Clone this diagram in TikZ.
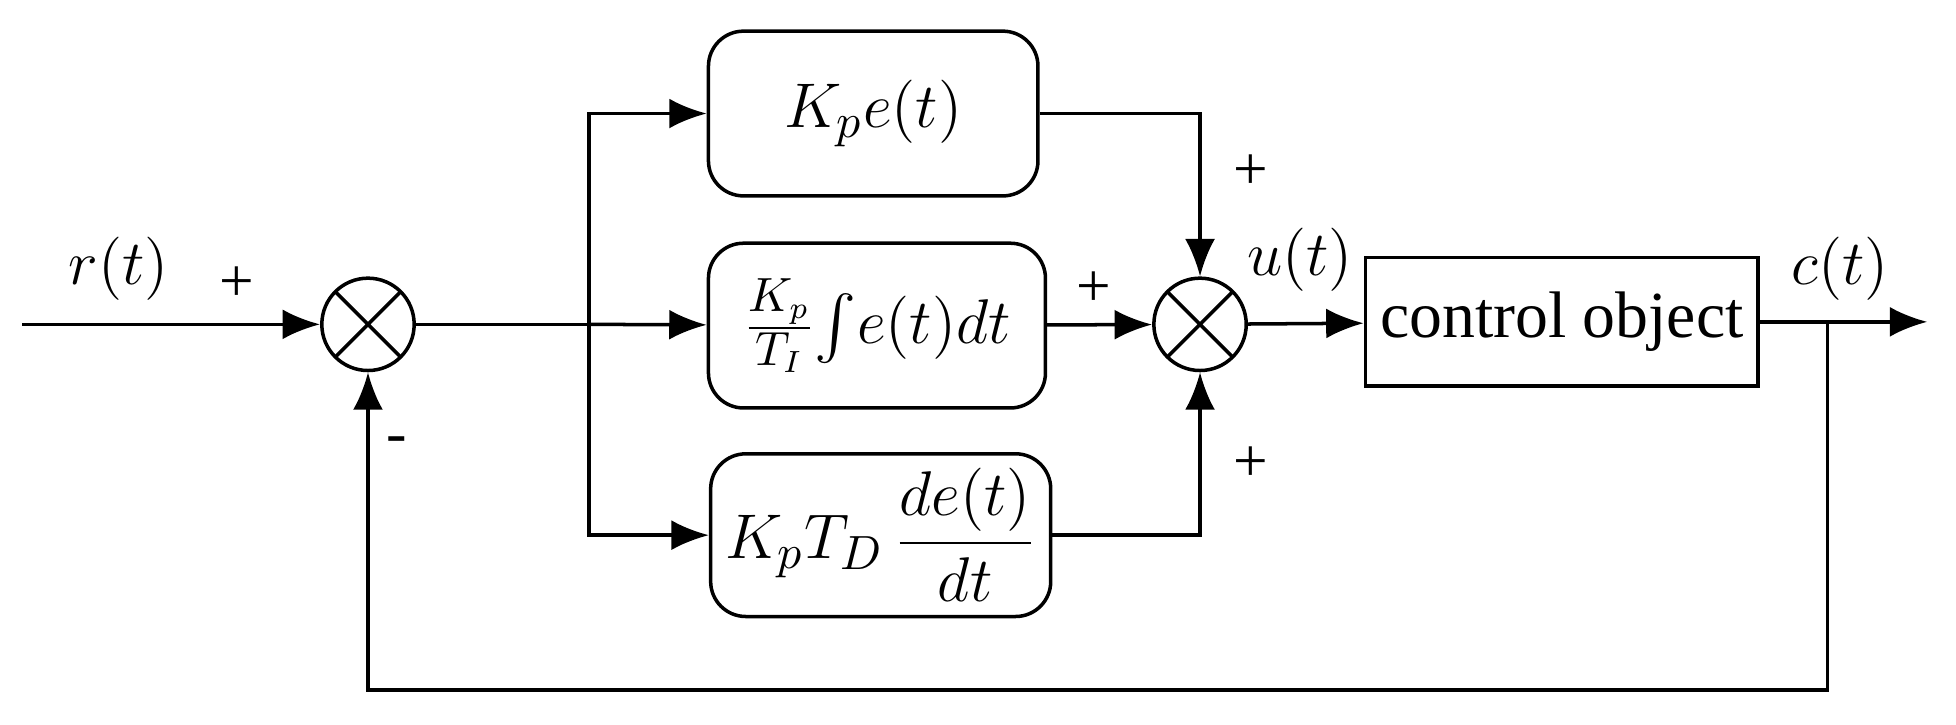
\documentclass[tikz,border=0pt]{standalone}
\usepackage{amsmath}
\usepackage{fontspec}
\setmainfont{Liberation Serif}
\usetikzlibrary{arrows.meta, positioning}
\tikzstyle{block} = [rectangle, draw, thick, rounded corners=8pt, text centered, align=center, font=\fontsize{15}{17}\selectfont]
\tikzstyle{plant} = [rectangle, draw, thick, text centered, align=center, font=\fontsize{15}{17}\selectfont]
\tikzstyle{sumnode} = [circle, draw, thick, minimum size=0.74cm, inner sep=0pt, path picture={\draw[thick] (path picture bounding box.north west) -- (path picture bounding box.south east) (path picture bounding box.south west) -- (path picture bounding box.north east);}]
\tikzstyle{arrow} = [thick, -{Latex[length=3mm,width=2.4mm]}]
\tikzstyle{sign} = [font=\fontsize{14}{16}\selectfont]

\begin{document}
\begin{tikzpicture}[x=0.01cm, y=-0.01cm]
\useasboundingbox (0,0) rectangle (1568,581);

% Nodes
\coordinate (in) at (18,260);
\node (sum1) [sumnode] at (295,260) {};
\coordinate (split) at (472,260);
\node (prop) [block, minimum width=2.64cm, minimum height=1.32cm] at (700,91) {$K_pe(t)$};
\node (integ) [block, minimum width=2.7cm, minimum height=1.32cm] at (703,261) {$\frac{K_p}{T_I}{\textstyle\int} e(t)dt$};
\node (deriv) [block, minimum width=2.63cm, minimum height=1.28cm] at (706,429) {$K_pT_D\,\dfrac{de(t)}{dt}$};
\node (sum2) [sumnode] at (962,260) {};
\node (plant) [plant, minimum width=2.91cm, minimum height=1.03cm] at (1252,258) {control object};
\coordinate (tap) at (1465,258);
\coordinate (out) at (1545,258);

% Arrows
\draw [arrow] (in) -- (sum1);
\draw [thick] (sum1) -- (split);
\draw [arrow] (split) -- (integ);
\draw [arrow] (split) |- (prop.west);
\draw [arrow] (split) |- (deriv.west);
\draw [arrow] (prop.east) -| (sum2.north);
\draw [arrow] (integ) -- (sum2);
\draw [arrow] (deriv.east) -| (sum2.south);
\draw [arrow] (sum2) -- (plant);
\draw [arrow] (plant) -- (out);
\draw [arrow] (tap) -- ++(0,295) -| (sum1.south);

% Labels
\node [sign] at (95,215) {$r(t)$};
\node [sign] at (190,228) {+};
\node [sign] at (318,357) {-};
\node [sign] at (877,232) {+};
\node [sign] at (1003,138) {+};
\node [sign] at (1003,372) {+};
\node [sign] at (1042,208) {$u(t)$};
\node [sign] at (1475,215) {$c(t)$};

\end{tikzpicture}
\end{document}
